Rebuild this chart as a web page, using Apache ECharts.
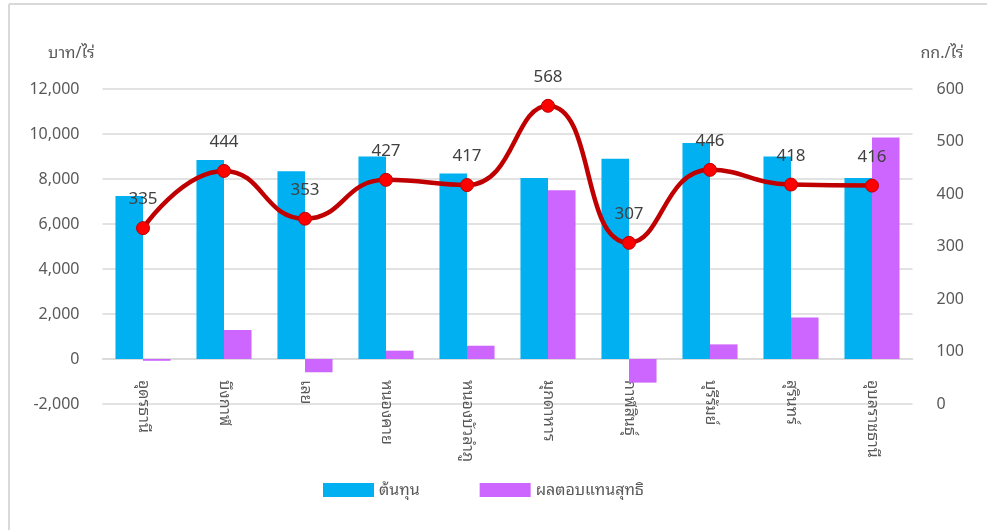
<!DOCTYPE html>
<html>
<head>
<meta charset="utf-8">
<script src="https://cdn.jsdelivr.net/npm/echarts@6/dist/echarts.min.js"></script>
<style>
  html, body { margin: 0; padding: 0; background: #fff; }
  #chart { width: 987px; height: 530px; }
</style>
</head>
<body>
<div id="chart"></div>
<script>
// Provinces on the category axis
const provinces = ['อุดรธานี', 'บึงกาฬ', 'เลย', 'หนองคาย', 'หนองบัวลำภู', 'มุกดาหาร', 'กาฬสินธุ์', 'บุรีรัมย์', 'สุรินทร์', 'อุบลราชธานี'];
// Cost per rai (บาท/ไร่)
const cost = [7250, 8850, 8350, 9000, 8250, 8050, 8900, 9600, 9000, 8050];
// Net return per rai (บาท/ไร่)
const netReturn = [-80, 1290, -590, 370, 590, 7500, -1050, 650, 1850, 9840];
// Yield per rai (กก./ไร่)
const yieldKg = [335, 444, 353, 427, 417, 568, 307, 446, 418, 416];

const leftTicks = { min: -2000, max: 12000, interval: 2000 };
const rightTicks = { min: 0, max: 600, interval: 100 };

const FONT = 'Tahoma, "Noto Sans Thai Looped", "Noto Sans", "DejaVu Sans", sans-serif';
const TXT = '#595959';

const chart = echarts.init(document.getElementById('chart'), null, { renderer: 'canvas' });

chart.setOption({
  backgroundColor: '#ffffff',
  animation: false,
  textStyle: { fontFamily: FONT },
  graphic: [
    { type: 'line', shape: { x1: 9, y1: 4, x2: 9, y2: 530 }, style: { stroke: '#d9d9d9', lineWidth: 2 } },
    { type: 'line', shape: { x1: 9, y1: 4, x2: 987, y2: 4 }, style: { stroke: '#d9d9d9', lineWidth: 2 } }
  ],
  grid: { left: 102.5, right: 74.5, top: 89, bottom: 126, containLabel: false },
  legend: {
    bottom: 27,
    left: 318,
    itemWidth: 51,
    itemHeight: 14,
    itemGap: 60,
    textStyle: { color: TXT, fontSize: 16, fontFamily: FONT },
    data: [
      { name: 'ต้นทุน', icon: 'rect' },
      { name: 'ผลตอบแทนสุทธิ', icon: 'rect' }
    ]
  },
  xAxis: {
    type: 'category',
    data: provinces,
    axisLine: { onZero: true, lineStyle: { color: '#d9d9d9', width: 1.5 } },
    axisTick: { show: false },
    axisLabel: {
      rotate: -90,
      // labels stay at the grid bottom when the line sits on zero, so pull them up
      margin: -24,
      color: TXT,
      fontSize: 16,
      fontFamily: FONT,
      interval: 0
    }
  },
  yAxis: [
    {
      type: 'value',
      min: leftTicks.min,
      max: leftTicks.max,
      interval: leftTicks.interval,
      name: 'บาท/ไร่',
      nameLocation: 'end',
      nameGap: 28,
      nameTextStyle: { color: TXT, fontSize: 16, fontFamily: FONT, align: 'right', padding: [0, 8, 0, 0] },
      axisLine: { show: false },
      axisTick: { show: false },
      axisLabel: {
        color: TXT,
        fontSize: 16,
        margin: 23,
        formatter: v => v.toLocaleString('en-US')
      },
      splitLine: { lineStyle: { color: '#d9d9d9', width: 1.5 } }
    },
    {
      type: 'value',
      min: rightTicks.min,
      max: rightTicks.max,
      interval: rightTicks.interval,
      name: 'กก./ไร่',
      nameLocation: 'end',
      nameGap: 28,
      nameTextStyle: { color: TXT, fontSize: 16, fontFamily: FONT, align: 'left', padding: [0, 0, 0, 8] },
      axisLine: { show: false },
      axisTick: { show: false },
      axisLabel: { color: TXT, fontSize: 16, margin: 24 },
      splitLine: { show: false }
    }
  ],
  series: [
    {
      name: 'ต้นทุน',
      type: 'bar',
      yAxisIndex: 0,
      data: cost,
      barGap: '0%',
      barCategoryGap: '32%',
      itemStyle: { color: '#00b0f0' }
    },
    {
      name: 'ผลตอบแทนสุทธิ',
      type: 'bar',
      yAxisIndex: 0,
      data: netReturn,
      itemStyle: { color: '#cc66ff' }
    },
    {
      name: 'ผลผลิต',
      type: 'line',
      yAxisIndex: 1,
      data: yieldKg,
      smooth: 0.5,
      symbol: 'circle',
      symbolSize: 13,
      lineStyle: { color: '#c00000', width: 4.5 },
      itemStyle: { color: '#ff0000', borderColor: '#c00000', borderWidth: 1 },
      label: {
        show: true,
        position: 'top',
        distance: 13,
        color: '#404040',
        fontSize: 17,
        fontFamily: FONT
      },
      z: 5
    }
  ]
});
</script>
</body>
</html>
